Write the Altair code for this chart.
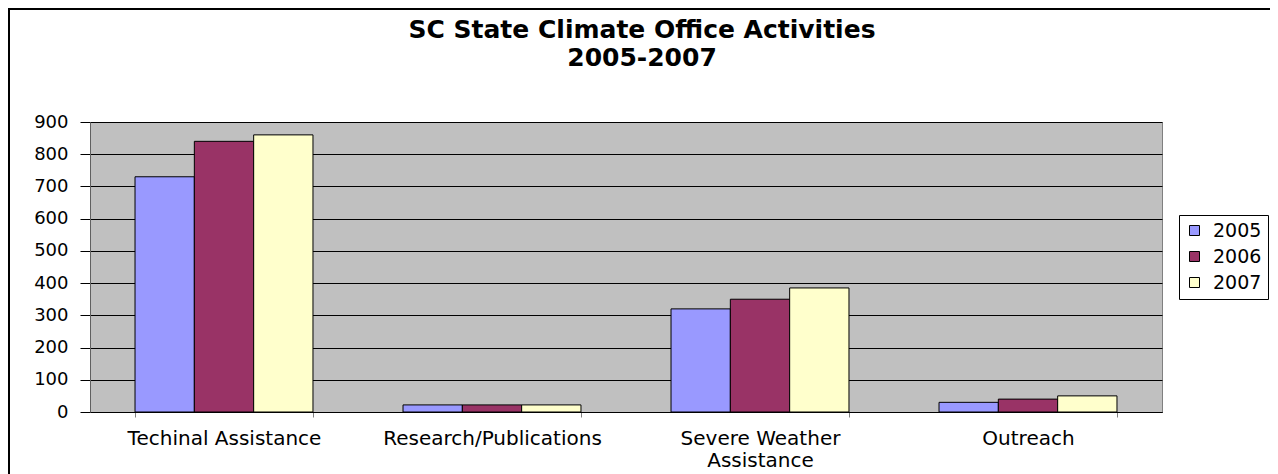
import altair as alt
import pandas as pd

CATEGORIES = ["Techinal Assistance", "Research/Publications", "Severe Weather Assistance", "Outreach"]
YEARS = ["2005", "2006", "2007"]
V2005 = [730, 22, 320, 30]
V2006 = [840, 22, 350, 40]
V2007 = [860, 22, 385, 50]
COLORS = ["#9999FF", "#993366", "#FFFFCC"]
Y_TICKS = [0, 100, 200, 300, 400, 500, 600, 700, 800, 900]
TITLE_LINES = ["SC State Climate Office Activities", "2005-2007"]

rows = []
for yr, vals in zip(YEARS, [V2005, V2006, V2007]):
    for c, v in zip(CATEGORIES, vals):
        rows.append({"category": c, "year": yr, "value": v})
df = pd.DataFrame(rows)

FONT = "DejaVu Sans"

bars = alt.Chart(df).mark_bar(stroke="black", strokeWidth=1).encode(
    x=alt.X(
        "category:N",
        sort=CATEGORIES,
        scale=alt.Scale(paddingInner=0.336, paddingOuter=0.168),
        axis=alt.Axis(
            title=None,
            labelAngle=0,
            labelFont=FONT,
            labelFontSize=20,
            labelColor="black",
            labelLineHeight=22,
            labelPadding=11,
            labelLimit=400,
            labelExpr="datum.label == 'Severe Weather Assistance' ? ['Severe Weather', 'Assistance'] : datum.label",
            tickBand="extent",
            tickSize=5,
            tickColor="#808080",
            domainColor="black",
            grid=False,
        ),
    ),
    xOffset=alt.XOffset("year:N", sort=YEARS, scale=alt.Scale(paddingInner=0, paddingOuter=0)),
    y=alt.Y(
        "value:Q",
        scale=alt.Scale(domain=[0, 900], nice=False),
        axis=alt.Axis(
            title=None,
            values=Y_TICKS,
            labelFont=FONT,
            labelFontSize=18,
            labelColor="black",
            labelPadding=12,
            tickSize=10,
            tickColor="black",
            domainColor="#606060",
            grid=True,
            gridColor="black",
            gridWidth=1,
        ),
    ),
    color=alt.Color(
        "year:N",
        sort=YEARS,
        scale=alt.Scale(domain=YEARS, range=COLORS),
        legend=alt.Legend(
            title=None,
            orient="none",
            legendX=1089,
            legendY=93,
            strokeColor="black",
            fillColor="white",
            padding=6,
            symbolType="square",
            symbolSize=100,
            symbolStrokeColor="black",
            symbolStrokeWidth=1,
            symbolOpacity=1,
            labelFont=FONT,
            labelFontSize=19,
            labelColor="black",
            labelOffset=9,
            rowPadding=6,
        ),
    ),
)

one_row = alt.Data(values=[{"k": 1}])
left_border = alt.Chart(one_row).mark_rule(color="black", strokeWidth=2).encode(
    x=alt.value(-81), y=alt.value(-113), y2=alt.value(400)
)
top_border = alt.Chart(one_row).mark_rule(color="black", strokeWidth=2).encode(
    y=alt.value(-113), x=alt.value(-82), x2=alt.value(1200)
)
title = alt.Chart(one_row).mark_text(
    text=TITLE_LINES,
    font=FONT,
    fontSize=25,
    fontWeight="bold",
    color="black",
    align="center",
    baseline="alphabetic",
    lineHeight=28,
).encode(x=alt.value(552), y=alt.value(-84))

chart = alt.layer(bars, left_border, top_border, title).properties(
    width=1072,
    height=290,
    autosize=alt.AutoSizeParams(type="none"),
    padding={"left": 82, "top": 114, "right": 108, "bottom": 62},
    background="white",
).configure_view(
    fill="#C0C0C0", stroke="#808080", strokeWidth=1
)

chart.save("out.html", embed_options={"renderer": "svg", "actions": False})
